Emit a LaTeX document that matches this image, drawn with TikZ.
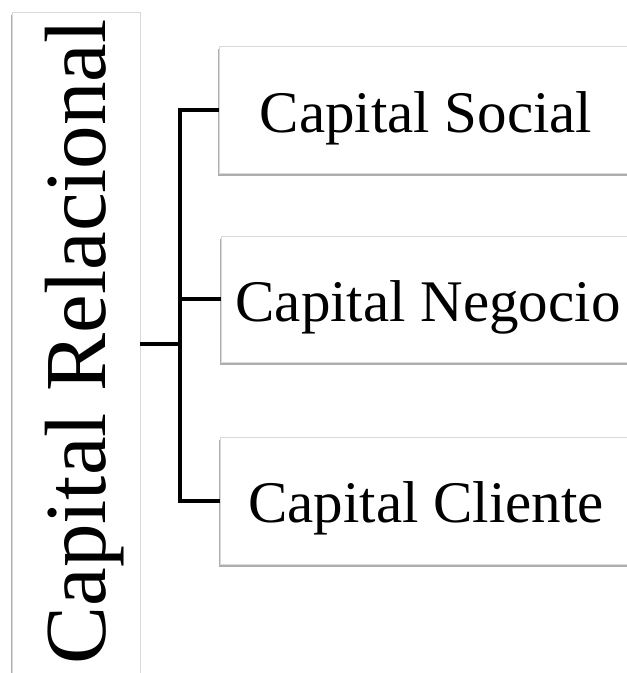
\documentclass[tikz,border=0pt]{standalone}
\usepackage{fontspec}
\setmainfont{Liberation Serif}
\usetikzlibrary{shadows}
\definecolor{edgegray}{HTML}{D9D9D9}
\definecolor{shadowgray}{HTML}{8C8C8C}
\tikzset{
  panel/.style={draw=edgegray, line width=0.8pt, fill=white, rectangle, inner sep=0pt,
    drop shadow={shadow xshift=-0.8pt, shadow yshift=-3pt, fill=shadowgray, opacity=0.7}},
  bigtext/.style={font=\fontsize{87}{90}\selectfont, inner sep=0pt, anchor=base, rotate=90},
  boxtext/.style={font=\fontsize{59}{62}\selectfont, inner sep=0pt, anchor=base},
  connector/.style={draw=black, line width=4pt}
}
\begin{document}
\begin{tikzpicture}[x=1pt, y=-1pt]
\useasboundingbox (0,0) rectangle (627,673);
\clip (0,0) rectangle (627,673);
\fill[white] (0,0) rectangle (627,673);
% left panel
\node[panel, minimum width=128pt, minimum height=680pt] (L) at (76,352) {};
\node[bigtext] (Lt) at (105,342) {Capital Relacional};
% right panels
\node[panel, minimum width=416pt, minimum height=127pt] (b1) at (427,109.5) {};
\node[panel, minimum width=414pt, minimum height=126pt] (b2) at (428,299) {};
\node[panel, minimum width=415pt, minimum height=127pt] (b3) at (427.5,500.5) {};
\node[boxtext] (t1) at (426,132) {Capital Social};
\node[boxtext] (t2) at (428,321) {Capital Negocio};
\node[boxtext] (t3) at (426,522) {Capital Cliente};
% connectors
\coordinate (j) at (180,344);
\draw[connector] (j -| L.east) -- (j);
\draw[connector] (j) |- (b1.west);
\draw[connector] (j) |- (b2.west);
\draw[connector] (j) |- (b3.west);
\end{tikzpicture}
\end{document}
